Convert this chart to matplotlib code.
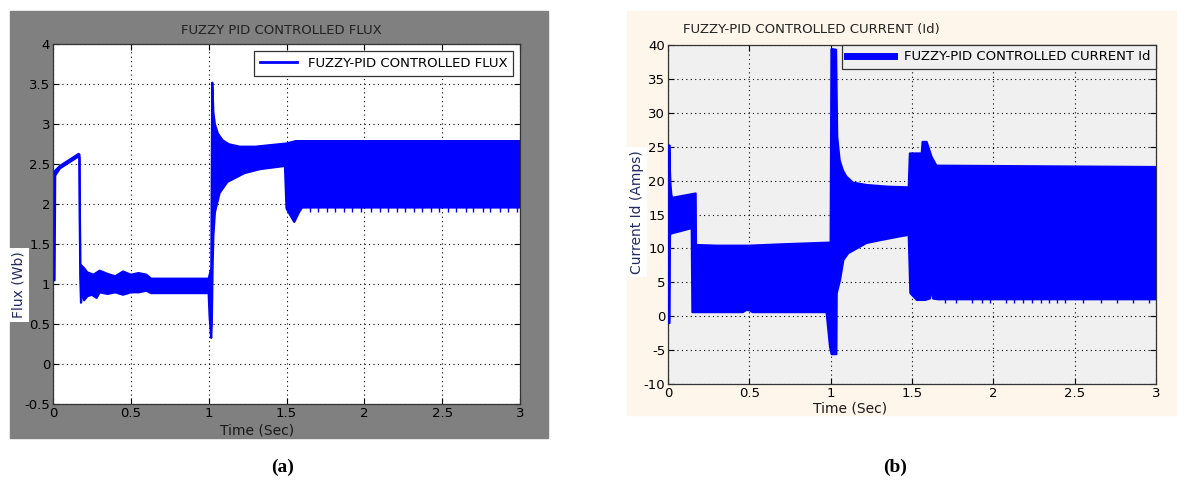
import matplotlib
matplotlib.use("Agg")
import matplotlib.pyplot as plt
from matplotlib.patches import Rectangle
import numpy as np

plt.rcParams['font.family'] = ['Liberation Sans Narrow', 'DejaVu Sans']
plt.rcParams['axes.unicode_minus'] = False

# ---- datos (a): flujo ----
flux_hi_t = [0.008, 0.014, 0.045, 0.165, 0.17, 0.175, 0.2, 0.22, 0.26, 0.3, 0.35, 0.4,
             0.45, 0.5, 0.55, 0.6, 0.63, 0.98, 1.0, 1.017, 1.023, 1.03, 1.04, 1.06,
             1.09, 1.13, 1.2, 1.3, 1.4, 1.5, 1.56, 3.0]
flux_hi_v = [2.38, 2.42, 2.48, 2.63, 2.62, 1.25, 1.2, 1.15, 1.12, 1.17, 1.13, 1.1,
             1.16, 1.12, 1.14, 1.12, 1.07, 1.07, 1.07, 1.2, 3.52, 3.15, 3.0, 2.88,
             2.8, 2.75, 2.72, 2.72, 2.74, 2.76, 2.79, 2.79]
flux_lo_t = [0.008, 0.01, 0.014, 0.045, 0.165, 0.17, 0.175, 0.18, 0.19, 0.2, 0.22,
             0.25, 0.28, 0.3, 0.35, 0.4, 0.45, 0.5, 0.55, 0.6, 0.63, 0.98, 1.0, 1.006,
             1.016, 1.02, 1.025, 1.03, 1.04, 1.07, 1.12, 1.23, 1.33, 1.49, 1.5, 1.52,
             1.55, 1.58, 1.6, 3.0]
flux_lo_v = [1.05, 1.05, 2.36, 2.45, 2.6, 2.58, 1.1, 0.77, 0.95, 0.8, 0.85, 0.87,
             0.83, 0.9, 0.88, 0.9, 0.87, 0.9, 0.9, 0.92, 0.89, 0.89, 0.89, 0.6, 0.33,
             0.5, 1.2, 1.6, 1.9, 2.14, 2.28, 2.39, 2.44, 2.48, 1.95, 1.88, 1.78, 1.9,
             1.96, 1.96]
flux_spk_t = [1.65, 1.70, 1.76, 1.81, 1.87, 1.92, 1.98, 2.04, 2.10, 2.15, 2.21, 2.26,
              2.32, 2.37, 2.43, 2.48, 2.54, 2.59, 2.65, 2.70, 2.76, 2.81, 2.87, 2.92,
              2.98]

# ---- datos (b): corriente Id ----
id_hi_t = [0.006, 0.008, 0.011, 0.015, 0.02, 0.025, 0.035, 0.17, 0.172, 0.3, 0.5, 0.7,
           0.99, 1.0, 1.005, 1.033, 1.04, 1.055, 1.075, 1.096, 1.137, 1.22, 1.35,
           1.48, 1.487, 1.56, 1.565, 1.59, 1.62, 1.65, 3.0]
id_hi_v = [-1.0, 25.2, 22.0, 19.5, 18.0, 17.5, 17.5, 18.1, 10.5, 10.4, 10.4, 10.6,
           10.85, 10.85, 39.4, 39.3, 26.5, 23.0, 21.5, 20.6, 19.7, 19.35, 19.1,
           19.0, 24.0, 24.0, 25.7, 25.7, 23.5, 22.2, 22.0]
id_lo_t = [0.006, 0.009, 0.012, 0.02, 0.146, 0.15, 0.2, 0.46, 0.48, 0.5, 0.52, 0.975,
           0.996, 1.006, 1.035, 1.037, 1.057, 1.078, 1.108, 1.16, 1.22, 1.3, 1.43,
           1.48, 1.49, 1.53, 1.58, 1.61, 1.62, 1.63, 1.66, 3.0]
id_lo_v = [-1.0, -1.0, 12.0, 12.2, 13.0, 0.6, 0.6, 0.6, 0.9, 0.9, 0.6, 0.6, -4.5,
           -5.6, -5.6, 3.4, 5.3, 8.3, 9.3, 10.0, 10.8, 11.2, 11.8, 12.0, 3.4, 2.4,
           2.4, 2.6, 4.2, 2.6, 2.5, 2.5]
id_spk_t = [1.70, 1.77, 1.87, 1.93, 1.98, 2.08, 2.13, 2.18, 2.24, 2.29, 2.34, 2.39,
            2.44, 2.55, 2.66, 2.76, 2.86, 2.96]

W, H = 1177, 482
azul = '#0000ff'

def caja(x0, y0, x1, y1):
    # pixeles -> coordenadas de figura
    return [x0 / W, 1 - y1 / H, (x1 - x0) / W, (y1 - y0) / H]

fig = plt.figure(figsize=(W / 100, H / 100), dpi=100)
fig.patches.append(Rectangle((10 / W, 1 - 438 / H), 538 / W, 427 / H,
                             transform=fig.transFigure, color='#808080', zorder=-10))
fig.patches.append(Rectangle((627 / W, 1 - 415 / H), 550 / W, 404 / H,
                             transform=fig.transFigure, color='#fef6ea', zorder=-10))

def estilo(ax):
    ax.grid(True, color='black', linestyle=(0, (1, 3)), linewidth=0.8)
    ax.tick_params(direction='in', top=True, right=True, labelsize=9.5,
                   length=4, colors='black', pad=2)
    for s in ax.spines.values():
        s.set_linewidth(0.9)
        s.set_color('#333333')

def banda(ax, t_hi, v_hi, t_lo, v_lo, lw):
    xs = np.r_[t_hi, t_lo[::-1]]
    ys = np.r_[v_hi, v_lo[::-1]]
    ax.fill(xs, ys, color=azul, lw=0, zorder=3)
    ax.plot(t_hi, v_hi, color=azul, lw=lw, zorder=3)
    ax.plot(t_lo, v_lo, color=azul, lw=lw, zorder=3)

# ---- (a) ----
ax1 = fig.add_axes(caja(53, 44.3, 520, 404.3), zorder=2)
ax1.set_facecolor('white')
banda(ax1, flux_hi_t, flux_hi_v, flux_lo_t, flux_lo_v, 1.6)
ax1.vlines(flux_spk_t, 1.91, 1.97, color=azul, lw=1.0, zorder=3)
ax1.plot([], [], color=azul, lw=2, label='FUZZY-PID CONTROLLED FLUX')
ax1.set_xlim(0, 3)
ax1.set_ylim(-0.5, 4)
ax1.set_xticks(np.arange(0, 3.01, 0.5))
ax1.set_xticklabels(['0', '0.5', '1', '1.5', '2', '2.5', '3'])
ax1.set_yticks(np.arange(-0.5, 4.01, 0.5))
ax1.set_yticklabels(['-0.5', '0', '0.5', '1', '1.5', '2', '2.5', '3', '3.5', '4'])
estilo(ax1)
leg = ax1.legend(loc='upper right', fontsize=9.5, fancybox=False, framealpha=1,
                 edgecolor='#333333', borderaxespad=0.5, handlelength=2.8,
                 borderpad=0.45)
leg.get_frame().set_linewidth(0.9)
fig.text(281 / W, 1 - 30 / H, 'FUZZY PID CONTROLLED FLUX', ha='center', va='center',
         fontsize=9.5, color='#222222')
fig.text(257 / W, 1 - 431 / H, 'Time (Sec)', ha='center', va='center',
         fontsize=10, color='#1a1a1a')
fig.text(18.5 / W, 1 - 285 / H, 'Flux (Wb)', ha='center', va='center', rotation=90,
         fontsize=10, color='#202a60',
         bbox=dict(facecolor='white', edgecolor='none', pad=2.5))

# ---- (b) ----
ax2 = fig.add_axes(caja(668, 45, 1156, 384), zorder=2)
ax2.set_facecolor('#f0f0f0')
banda(ax2, id_hi_t, id_hi_v, id_lo_t, id_lo_v, 1.6)
ax2.vlines(id_spk_t, 1.9, 2.8, color=azul, lw=1.0, zorder=3)
ax2.plot([], [], color=azul, lw=5, label='FUZZY-PID CONTROLLED CURRENT Id')
ax2.set_xlim(0, 3)
ax2.set_ylim(-10, 40)
ax2.set_xticks(np.arange(0, 3.01, 0.5))
ax2.set_xticklabels(['0', '0.5', '1', '1.5', '2', '2.5', '3'])
ax2.set_yticks(np.arange(-10, 41, 5))
estilo(ax2)
leg2 = ax2.legend(loc='upper right', fontsize=9.5, fancybox=False, framealpha=1,
                  edgecolor='#333333', borderaxespad=0.0, handlelength=3.5,
                  borderpad=0.4, facecolor='#f0f0f0')
leg2.get_frame().set_linewidth(0.9)
fig.text(811 / W, 1 - 30 / H, 'FUZZY-PID CONTROLLED CURRENT (Id)', ha='center',
         va='center', fontsize=9.5, color='#222222')
fig.text(850 / W, 1 - 408 / H, 'Time (Sec)', ha='center', va='center',
         fontsize=10, color='#1a1a1a')
fig.text(637 / W, 1 - 212 / H, 'Current Id (Amps)', ha='center', va='center',
         rotation=90, fontsize=10, color='#202a60',
         bbox=dict(facecolor='white', edgecolor='none', pad=2.5))

# ---- rotulos ----
fig.text(283 / W, 1 - 467 / H, '(a)', ha='center', va='center', fontsize=14,
         fontweight='bold', family='Liberation Serif')
fig.text(895 / W, 1 - 467 / H, '(b)', ha='center', va='center', fontsize=14,
         fontweight='bold', family='Liberation Serif')

fig.savefig('out.png', dpi=100)
